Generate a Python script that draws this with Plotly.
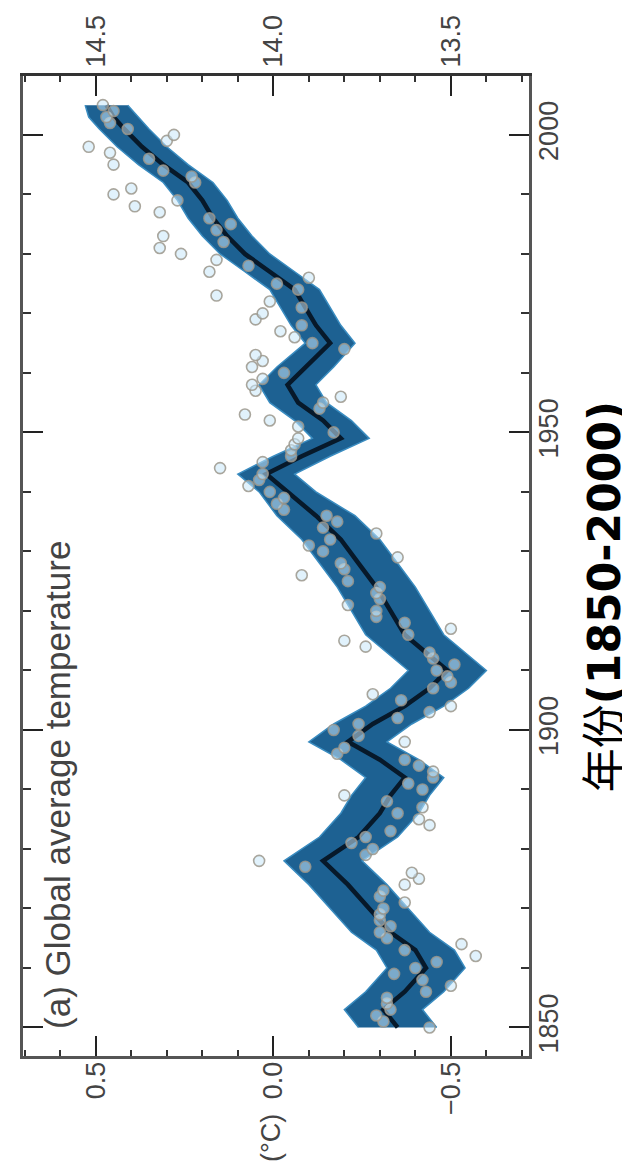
import plotly.graph_objects as go

# ---------------- data ----------------
annual_years = list(range(1850, 2006))
annual_anom = [
    -0.44, -0.31, -0.29, -0.33, -0.32, -0.32, -0.43, -0.50, -0.42, -0.34,
    -0.40, -0.46, -0.57, -0.37, -0.53, -0.32, -0.30, -0.33, -0.30, -0.30,
    -0.31, -0.37, -0.30, -0.31, -0.37, -0.41, -0.39, -0.09, 0.04, -0.26,
    -0.28, -0.22, -0.26, -0.33, -0.44, -0.41, -0.35, -0.42, -0.32, -0.20,
    -0.42, -0.38, -0.45, -0.45, -0.41, -0.37, -0.18, -0.20, -0.37, -0.24,
    -0.17, -0.24, -0.35, -0.44, -0.50, -0.36, -0.28, -0.45, -0.50, -0.49,
    -0.46, -0.51, -0.45, -0.44, -0.26, -0.20, -0.38, -0.50, -0.37, -0.29,
    -0.29, -0.21, -0.30, -0.29, -0.30, -0.21, -0.08, -0.20, -0.19, -0.35,
    -0.14, -0.10, -0.16, -0.29, -0.14, -0.18, -0.15, -0.03, -0.01, -0.03,
    0.01, 0.07, 0.04, 0.03, 0.15, 0.03, -0.05, -0.05, -0.06, -0.07,
    -0.17, -0.07, 0.01, 0.08, -0.13, -0.14, -0.19, 0.05, 0.06, 0.03,
    -0.03, 0.06, 0.03, 0.05, -0.20, -0.11, -0.06, -0.02, -0.08, 0.05,
    0.03, -0.08, 0.01, 0.16, -0.07, -0.01, -0.10, 0.18, 0.07, 0.16,
    0.26, 0.32, 0.14, 0.31, 0.16, 0.12, 0.18, 0.32, 0.39, 0.27,
    0.45, 0.40, 0.22, 0.23, 0.31, 0.45, 0.35, 0.46, 0.52, 0.30,
    0.28, 0.41, 0.46, 0.47, 0.45, 0.48,
]

smooth_years = [1850, 1853, 1856, 1860, 1863, 1866, 1870, 1874, 1878, 1882,
                1886, 1889, 1892, 1895, 1898, 1901, 1904, 1907, 1910, 1913,
                1916, 1920, 1924, 1928, 1932, 1936, 1940, 1943, 1946, 1949,
                1952, 1955, 1958, 1961, 1965, 1968, 1971, 1974, 1977, 1980,
                1983, 1986, 1989, 1992, 1995, 1998, 2001, 2003, 2005]
smooth_anom = [-0.35, -0.31, -0.37, -0.43, -0.40, -0.33, -0.27, -0.21, -0.14, -0.24,
               -0.30, -0.33, -0.37, -0.30, -0.21, -0.28, -0.37, -0.44, -0.49, -0.43,
               -0.37, -0.33, -0.29, -0.24, -0.19, -0.12, -0.04, 0.02, -0.08, -0.19,
               -0.14, -0.07, -0.04, -0.09, -0.16, -0.12, -0.09, -0.06, 0.01, 0.08,
               0.13, 0.17, 0.20, 0.24, 0.31, 0.37, 0.42, 0.45, 0.47]
band_upper = [-0.24, -0.20, -0.26, -0.32, -0.29, -0.22, -0.16, -0.10, -0.03, -0.13,
              -0.19, -0.22, -0.26, -0.19, -0.10, -0.17, -0.26, -0.33, -0.38, -0.32,
              -0.26, -0.22, -0.18, -0.13, -0.08, -0.01, 0.04, 0.10, 0.00, -0.11,
              -0.06, 0.01, 0.04, -0.01, -0.09, -0.05, -0.02, 0.01, 0.08, 0.15,
              0.20, 0.24, 0.27, 0.31, 0.38, 0.44, 0.49, 0.52, 0.53]
band_lower = [-0.46, -0.42, -0.48, -0.54, -0.51, -0.44, -0.38, -0.32, -0.25, -0.35,
              -0.41, -0.44, -0.48, -0.41, -0.32, -0.39, -0.48, -0.55, -0.60, -0.54,
              -0.48, -0.44, -0.40, -0.35, -0.30, -0.23, -0.12, -0.06, -0.16, -0.27,
              -0.22, -0.15, -0.12, -0.17, -0.23, -0.19, -0.16, -0.13, -0.06, 0.01,
              0.06, 0.10, 0.13, 0.17, 0.24, 0.30, 0.35, 0.38, 0.41]

abs_tick_range = [13.5, 14.5]
title_text = "(a) Global average temperature"
unit_text = "(°C)"
axis_label = "年份<b>(1850-2000)</b>"

# ---------------- figure ----------------
fig = go.Figure()

fig.add_trace(go.Scatter(x=band_lower, y=smooth_years, mode="lines",
                         line=dict(color="#3a8cc0", width=1.5), hoverinfo="skip",
                         showlegend=False))
fig.add_trace(go.Scatter(x=band_upper, y=smooth_years, mode="lines",
                         line=dict(color="#3a8cc0", width=1.5), fill="tonextx",
                         fillcolor="#1d6192", hoverinfo="skip", showlegend=False))
fig.add_trace(go.Scatter(x=smooth_anom, y=smooth_years, mode="lines",
                         line=dict(color="#07192a", width=4.5), showlegend=False))
fig.add_trace(go.Scatter(x=annual_anom, y=annual_years, mode="markers",
                         marker=dict(symbol="circle", size=11,
                                     color="rgba(200,232,250,0.55)",
                                     line=dict(color="rgba(155,150,140,0.85)", width=1.6)),
                         showlegend=False))
# helper trace so the top (absolute temperature) axis is drawn
fig.add_trace(go.Scatter(x=abs_tick_range, y=[1850, 1850], xaxis="x2", mode="markers",
                         marker=dict(opacity=0), hoverinfo="skip", showlegend=False))

tickfont = dict(family="Liberation Sans, Arial", size=27, color="#444")

fig.update_layout(
    width=630, height=1162,
    margin=dict(l=15, r=109, t=68, b=114),
    paper_bgcolor="white", plot_bgcolor="white",
    xaxis=dict(range=[0.705, -0.72], tick0=0, dtick=0.5, tickformat=".1f",
               ticks="inside", ticklen=20, tickwidth=2, tickcolor="#222",
               showline=True, linewidth=3, linecolor="#555", automargin=False,
               tickangle=-90, tickfont=tickfont, showgrid=False, zeroline=False,
               ticklabelstandoff=-8,
               minor=dict(tick0=0, dtick=0.1, ticks="inside", ticklen=6,
                          tickwidth=2, tickcolor="#333", showgrid=False)),
    xaxis2=dict(overlaying="x", side="top", anchor="y",
                range=[14.705, 13.28], tick0=14, dtick=0.5, tickformat=".1f",
                ticks="inside", ticklen=20, tickwidth=2, tickcolor="#222",
                showline=True, linewidth=3, linecolor="#333", automargin=False,
                tickangle=-90, tickfont=tickfont, showgrid=False, zeroline=False,
                ticklabelstandoff=0,
                minor=dict(tick0=14, dtick=0.1, ticks="inside", ticklen=6,
                           tickwidth=2, tickcolor="#333", showgrid=False)),
    yaxis=dict(range=[1845.2, 2009.9], side="right", tick0=1850, dtick=50,
               ticks="inside", ticklen=20, tickwidth=2, tickcolor="#222",
               showline=True, linewidth=3, linecolor="#555", mirror="ticks",
               automargin=False,
               tickangle=-90, tickfont=tickfont, showgrid=False, zeroline=False,
               ticklabelstandoff=-6,
               minor=dict(tick0=1850, dtick=10, ticks="inside", ticklen=8,
                          tickwidth=2, tickcolor="#333", showgrid=False)),
)

fig.add_annotation(text=title_text, textangle=-90, xref="paper", yref="paper",
                   x=0.067, y=0.2765, xanchor="center", yanchor="middle",
                   showarrow=False,
                   font=dict(family="Liberation Sans, Arial", size=35, color="#444"))
fig.add_annotation(text=unit_text, textangle=-90, xref="paper", yref="paper",
                   x=0.49, y=-0.0837, xanchor="center", yanchor="middle",
                   showarrow=False,
                   font=dict(family="Liberation Sans, Arial", size=27, color="#444"))
fig.add_annotation(text=axis_label, textangle=-90, xref="paper", yref="paper",
                   x=1.148, y=0.469, xanchor="center", yanchor="middle",
                   showarrow=False,
                   font=dict(family="DejaVu Sans, Noto Sans CJK SC", size=44, color="black"))

fig.write_html("out.html")
